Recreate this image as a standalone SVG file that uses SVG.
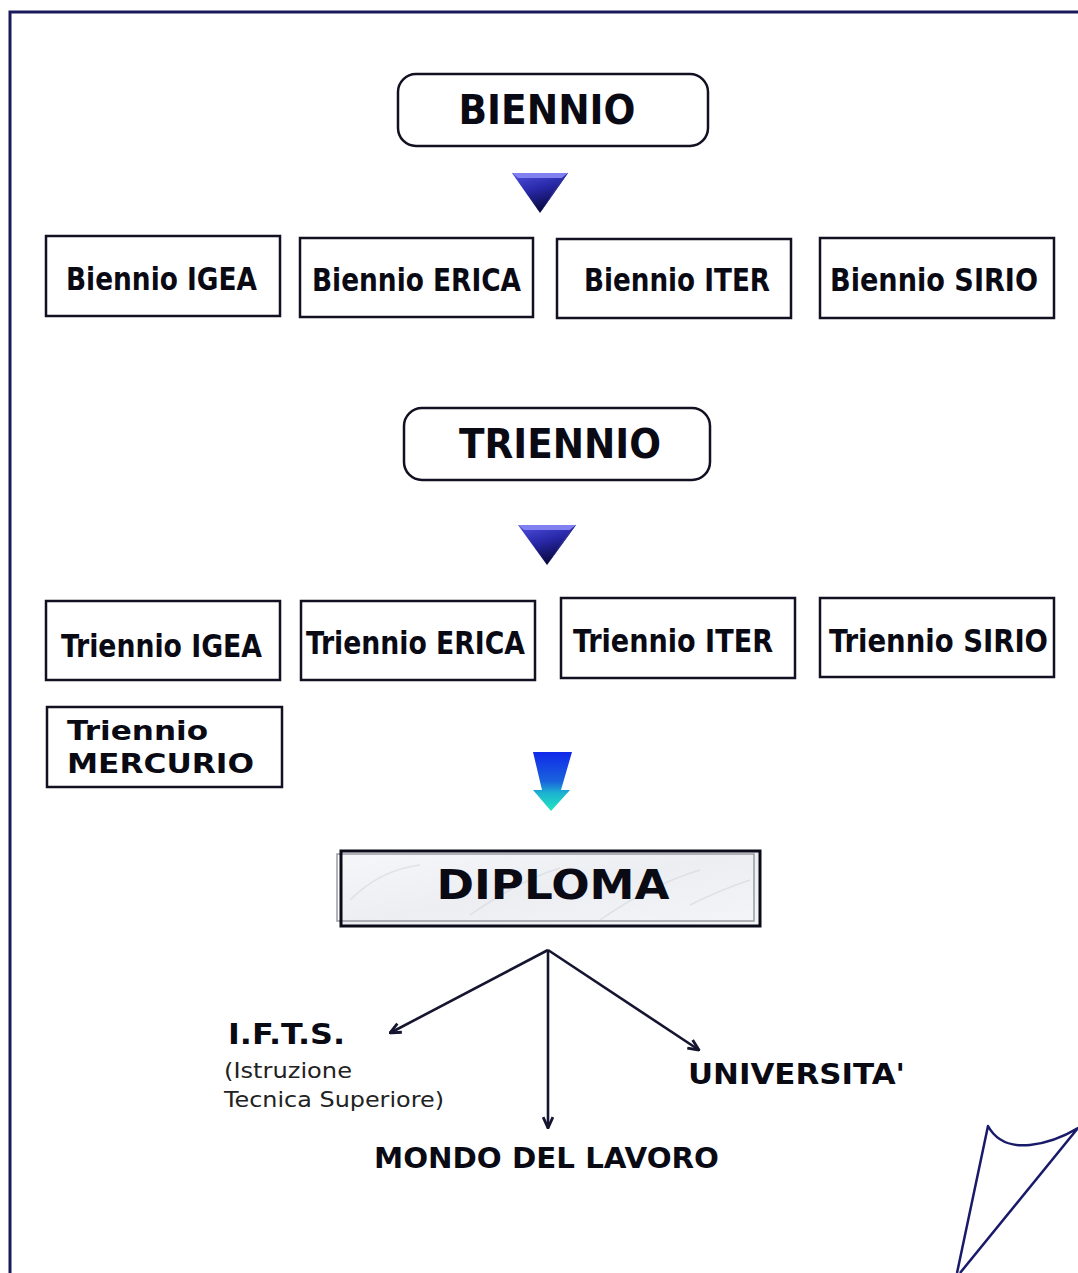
<svg xmlns="http://www.w3.org/2000/svg" width="1078" height="1273" viewBox="0 0 1078 1273">
<defs>
<style>
.box{fill:#fff;stroke:#111122;stroke-width:2.5}
.hdr{fill:#fff;stroke:#111122;stroke-width:2.5}
.t1{font-family:"DejaVu Sans",Verdana,sans-serif;font-weight:bold;fill:#0a0a14}
.tc{font-family:"DejaVu Sans Condensed","DejaVu Sans",sans-serif;font-weight:bold;font-stretch:condensed;fill:#0a0a14}
.tr{font-family:"DejaVu Sans",Verdana,sans-serif;fill:#222}
.conn{stroke:#151530;stroke-width:2.6;fill:none}
</style>
<linearGradient id="triG" x1="0" y1="0" x2="0.4" y2="1">
<stop offset="0" stop-color="#5050e0"/>
<stop offset="0.5" stop-color="#2828a8"/>
<stop offset="1" stop-color="#08083e"/>
</linearGradient>
<linearGradient id="arrG" x1="0" y1="0" x2="0" y2="1">
<stop offset="0" stop-color="#1028ea"/>
<stop offset="0.5" stop-color="#1a64dc"/>
<stop offset="0.7" stop-color="#1cb4d0"/>
<stop offset="1" stop-color="#22e6c0"/>
</linearGradient>
<linearGradient id="marble" x1="0" y1="0" x2="1" y2="1">
<stop offset="0" stop-color="#f6f7f9"/>
<stop offset="0.5" stop-color="#eceef2"/>
<stop offset="1" stop-color="#f4f5f7"/>
</linearGradient>
<marker id="ah" viewBox="0 0 12 12" refX="11" refY="6" markerWidth="13" markerHeight="13" markerUnits="userSpaceOnUse" orient="auto">
<path d="M1,1.5 L11,6 L1,10.5" fill="none" stroke="#151530" stroke-width="2.6"/>
</marker>
</defs>
<rect width="1078" height="1273" fill="#fff"/>
<path d="M10,1273 L10,12 L1078,12" fill="none" stroke="#1a1a5c" stroke-width="3"/>

<g id="biennio">
<rect class="hdr" x="398" y="74" width="310" height="72" rx="18"/>
<text class="t1" x="547" y="124" font-size="40" text-anchor="middle" textLength="177" lengthAdjust="spacingAndGlyphs">BIENNIO</text>
</g>
<g id="arrow1">
<polygon points="512,173 568,173 540,213" fill="url(#triG)"/>
<polygon points="512,173 568,173 562,178 518,178" fill="#8080f0"/>
<polygon points="562,178 568,173 540,213" fill="#30309a"/>
</g>

<g id="biennio-igea"><rect class="box" x="46" y="236" width="234" height="80"/><text class="tc" x="66" y="290" font-size="32" textLength="191" lengthAdjust="spacingAndGlyphs">Biennio IGEA</text></g>
<g id="biennio-erica"><rect class="box" x="300" y="238" width="233" height="79"/><text class="tc" x="312" y="291" font-size="32" textLength="209" lengthAdjust="spacingAndGlyphs">Biennio ERICA</text></g>
<g id="biennio-iter"><rect class="box" x="557" y="239" width="234" height="79"/><text class="tc" x="584" y="291" font-size="32" textLength="186" lengthAdjust="spacingAndGlyphs">Biennio ITER</text></g>
<g id="biennio-sirio"><rect class="box" x="820" y="238" width="234" height="80"/><text class="tc" x="830" y="291" font-size="32" textLength="208" lengthAdjust="spacingAndGlyphs">Biennio SIRIO</text></g>

<g id="triennio">
<rect class="hdr" x="404" y="408" width="306" height="72" rx="18"/>
<text class="t1" x="560" y="458" font-size="40" text-anchor="middle" textLength="202" lengthAdjust="spacingAndGlyphs">TRIENNIO</text>
</g>
<g id="arrow2">
<polygon points="518,525 576,525 547,565" fill="url(#triG)"/>
<polygon points="518,525 576,525 570,530 524,530" fill="#8080f0"/>
<polygon points="570,530 576,525 547,565" fill="#30309a"/>
</g>

<g id="triennio-igea"><rect class="box" x="46" y="601" width="234" height="79"/><text class="tc" x="61" y="657" font-size="32" textLength="201" lengthAdjust="spacingAndGlyphs">Triennio IGEA</text></g>
<g id="triennio-erica"><rect class="box" x="301" y="601" width="234" height="79"/><text class="tc" x="306" y="654" font-size="32" textLength="219" lengthAdjust="spacingAndGlyphs">Triennio ERICA</text></g>
<g id="triennio-iter"><rect class="box" x="561" y="598" width="234" height="80"/><text class="tc" x="573" y="652" font-size="32" textLength="200" lengthAdjust="spacingAndGlyphs">Triennio ITER</text></g>
<g id="triennio-sirio"><rect class="box" x="820" y="598" width="234" height="79"/><text class="tc" x="829" y="652" font-size="32" textLength="219" lengthAdjust="spacingAndGlyphs">Triennio SIRIO</text></g>
<g id="triennio-mercurio"><rect class="box" x="47" y="707" width="235" height="80"/>
<text class="t1" x="67" y="740" font-size="26" textLength="141" lengthAdjust="spacingAndGlyphs">Triennio</text>
<text class="t1" x="67" y="773" font-size="26" textLength="187" lengthAdjust="spacingAndGlyphs">MERCURIO</text></g>

<g id="arrow3">
<path d="M533,752 L572,752 L561,790 L570,790 L551,811 L533,790 L542,790 Z" fill="url(#arrG)"/>
</g>

<g id="diploma">
<rect x="341" y="851" width="419" height="75" fill="url(#marble)"/>
<g stroke="#d4d7de" stroke-width="1.5" fill="none" opacity="0.6">
<path d="M350,900 Q380,870 420,865"/>
<path d="M470,915 Q520,880 560,868"/>
<path d="M600,920 Q650,885 700,870"/>
<path d="M690,905 Q720,890 750,880"/>
</g>
<rect x="337" y="854" width="417" height="67" fill="none" stroke="#9a9aa2" stroke-width="1.5"/>
<rect x="341" y="851" width="419" height="75" fill="none" stroke="#0a0a18" stroke-width="3"/>
<text class="t1" x="553" y="899" font-size="40" text-anchor="middle" textLength="233" lengthAdjust="spacingAndGlyphs">DIPLOMA</text>
</g>

<g id="connectors">
<line class="conn" x1="548" y1="950" x2="390" y2="1033" marker-end="url(#ah)"/>
<line class="conn" x1="548" y1="950" x2="548" y2="1128" marker-end="url(#ah)"/>
<line class="conn" x1="548" y1="950" x2="699" y2="1050" marker-end="url(#ah)"/>
</g>

<g id="ifts">
<text class="t1" x="228" y="1044" font-size="28" textLength="117" lengthAdjust="spacingAndGlyphs">I.F.T.S.</text>
<text class="tr" x="224" y="1078" font-size="22" textLength="128" lengthAdjust="spacingAndGlyphs">(Istruzione</text>
<text class="tr" x="224" y="1107" font-size="22" textLength="220" lengthAdjust="spacingAndGlyphs">Tecnica Superiore)</text>
</g>
<g id="universita"><text class="t1" x="688" y="1084" font-size="28" textLength="217" lengthAdjust="spacingAndGlyphs">UNIVERSITA'</text></g>
<g id="mondo"><text class="t1" x="374" y="1168" font-size="28" textLength="345" lengthAdjust="spacingAndGlyphs">MONDO DEL LAVORO</text></g>

<path d="M957,1273 L988,1126 Q1000,1148 1030,1145 Q1055,1142 1078,1128 L960,1273" fill="#fff" stroke="#1a1a6a" stroke-width="2.5" stroke-linejoin="round"/>
</svg>
